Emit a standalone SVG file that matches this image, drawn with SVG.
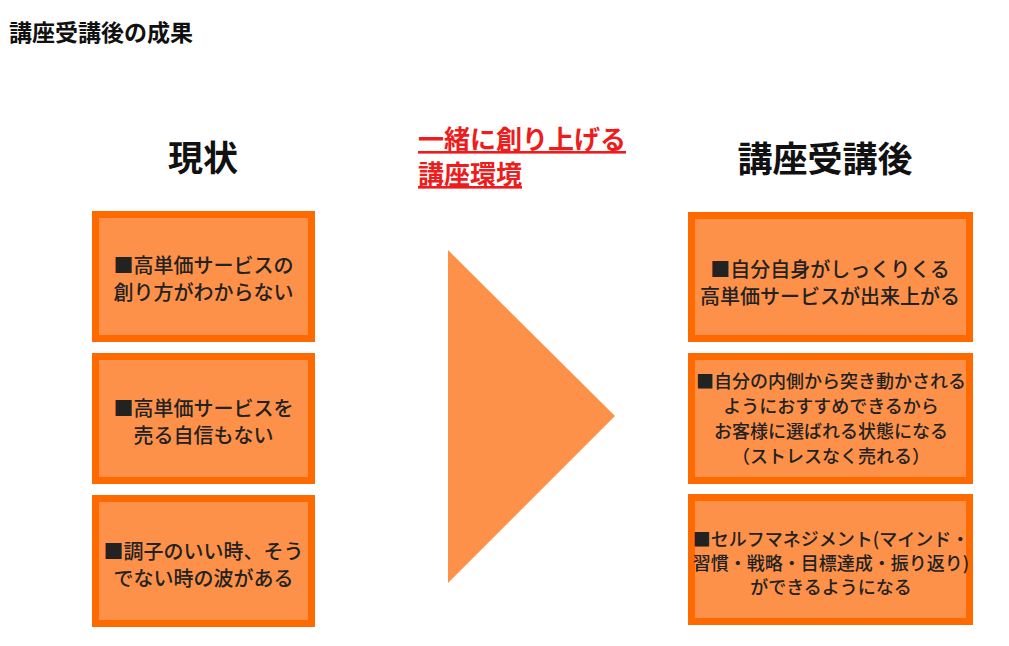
<svg xmlns="http://www.w3.org/2000/svg" width="1009" height="646" viewBox="0 0 1009 646">
<style>
text{font-family:"Noto Sans CJK JP","Noto Sans",sans-serif;}
.box{fill:#fd9149;stroke:#ff6a00;stroke-width:7;}
.t{font-size:20px;fill:#222;text-anchor:middle;font-weight:500;}
.s{font-size:18px;fill:#222;text-anchor:middle;font-weight:500;}
.h{font-size:35px;font-weight:bold;fill:#111;text-anchor:middle;}
.r{font-size:26px;font-weight:bold;fill:#ee1c1c;text-decoration:underline;}
</style>
<rect width="1009" height="646" fill="#fff"/>
<text x="9" y="41" style="font-size:23px;font-weight:bold;fill:#111">講座受講後の成果</text>
<text id="h-left" class="h" x="203" y="171">現状</text>
<text id="h-right" class="h" x="825" y="172">講座受講後</text>
<g id="center-label">
<text class="r" x="418" y="149">一緒に創り上げる</text>
<text class="r" x="418" y="184">講座環境</text>
</g>
<polygon id="arrow" points="448,250 615,416 448,583" fill="#fd9149"/>
<g id="left1"><rect class="box" x="95.5" y="214.5" width="216" height="124"/>
<text class="t" x="203.5" y="273">■高単価サービスの</text><text class="t" x="203.5" y="300">創り方がわからない</text></g>
<g id="left2"><rect class="box" x="95.5" y="356.5" width="216" height="124"/>
<text class="t" x="203.5" y="416">■高単価サービスを</text><text class="t" x="203.5" y="443">売る自信もない</text></g>
<g id="left3"><rect class="box" x="95.5" y="498.5" width="216" height="125"/>
<text class="t" x="203.5" y="559">■調子のいい時、そう</text><text class="t" x="203.5" y="586">でない時の波がある</text></g>
<g id="right1"><rect class="box" x="691.5" y="215.5" width="278" height="123"/>
<text class="t" x="830" y="277">■自分自身がしっくりくる</text><text class="t" x="830" y="304">高単価サービスが出来上がる</text></g>
<g id="right2"><rect class="box" x="691.5" y="356.5" width="278" height="124"/>
<text class="s" x="831" y="388">■自分の内側から突き動かされる</text>
<text class="s" x="831" y="413">ようにおすすめできるから</text>
<text class="s" x="831" y="438">お客様に選ばれる状態になる</text>
<text class="s" x="831" y="463">（ストレスなく売れる）</text></g>
<g id="right3"><rect class="box" x="691.5" y="497.5" width="278" height="124"/>
<text class="s" x="831" y="546">■セルフマネジメント(マインド・</text>
<text class="s" x="831" y="570">習慣・戦略・目標達成・振り返り)</text>
<text class="s" x="831" y="594">ができるようになる</text></g>
</svg>
